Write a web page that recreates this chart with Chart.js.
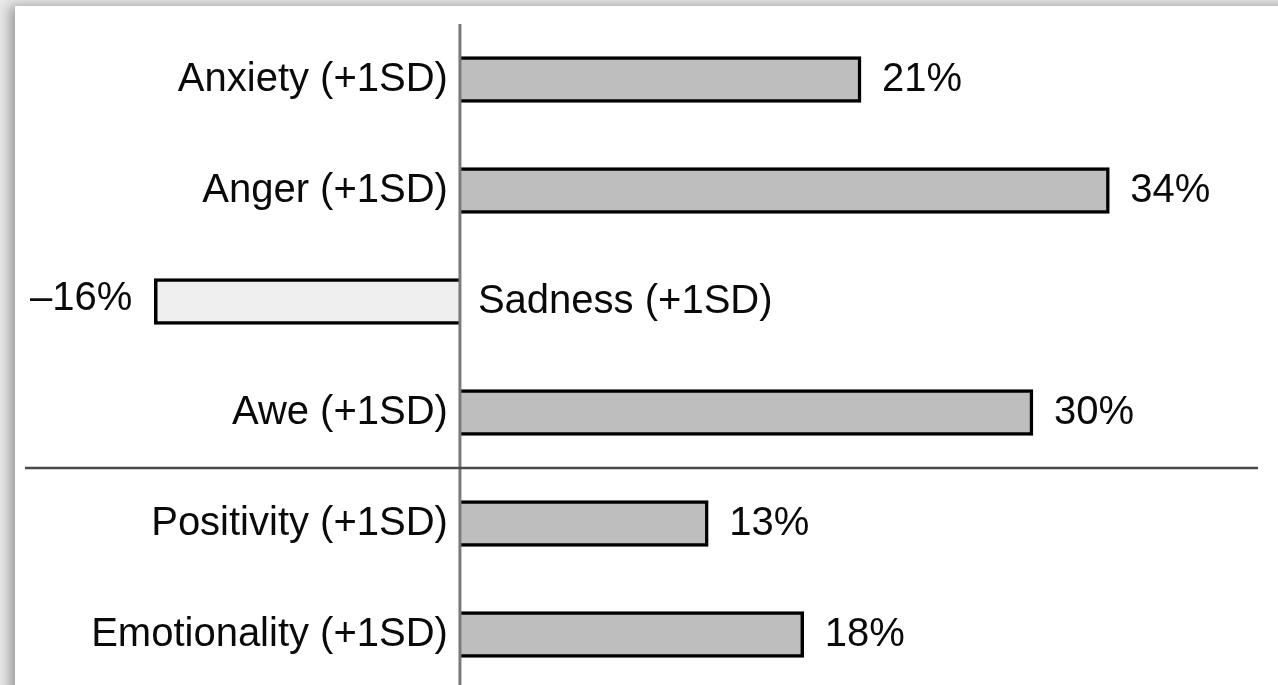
<!DOCTYPE html>
<html>
<head>
<meta charset="utf-8">
<script src="https://cdn.jsdelivr.net/npm/chart.js@4"></script>
<style>
    html, body { margin: 0; padding: 0; width: 1278px; height: 685px; overflow: hidden; background: #e9e9e9; }
    #panel { position: absolute; left: 15px; top: 6px; width: 1300px; height: 720px; background: #fff; box-shadow: -5px 0 12px rgba(0,0,0,0.35); }
    #chart { position: absolute; left: 0; top: 0; }
</style>
</head>
<body>
<div id="panel"></div>
<canvas id="chart" width="1278" height="690"></canvas>
<script>
var categories = ['Anxiety (+1SD)', 'Anger (+1SD)', 'Sadness (+1SD)', 'Awe (+1SD)', 'Positivity (+1SD)', 'Emotionality (+1SD)'];
var values = [21, 34, -16, 30, 13, 18];
var valueLabels = ['21%', '34%', '\u201316%', '30%', '13%', '18%'];
var separatorAfter = 3; // line between Awe and Positivity

var labelFont = '40px "Liberation Sans", Arial, sans-serif';

var labelsPlugin = {
    id: 'labels',
    afterDatasetsDraw: function (chart) {
        var ctx = chart.ctx;
        var x = chart.scales.x;
        var meta = chart.getDatasetMeta(0);
        var x0 = x.getPixelForValue(0);

        ctx.save();
        // zero axis
        ctx.strokeStyle = '#7a7a7a';
        ctx.lineWidth = 3;
        ctx.beginPath();
        ctx.moveTo(x0, 24);
        ctx.lineTo(x0, chart.height);
        ctx.stroke();

        // separator between groups
        var ySep = (meta.data[separatorAfter].y + meta.data[separatorAfter + 1].y) / 2;
        ctx.strokeStyle = '#4a4a4a';
        ctx.lineWidth = 2.5;
        ctx.beginPath();
        ctx.moveTo(25, ySep);
        ctx.lineTo(1258, ySep);
        ctx.stroke();

        ctx.font = labelFont;
        ctx.fillStyle = '#0a0a0a';
        ctx.textBaseline = 'middle';
        meta.data.forEach(function (bar, i) {
            var xEnd = x.getPixelForValue(values[i]);
            if (values[i] >= 0) {
                ctx.textAlign = 'right';
                ctx.fillText(categories[i], x0 - 12, bar.y);
                ctx.textAlign = 'left';
                ctx.fillText(valueLabels[i], xEnd + 21, bar.y);
            } else {
                ctx.textAlign = 'left';
                ctx.fillText(categories[i], x0 + 18, bar.y);
                ctx.textAlign = 'right';
                ctx.fillText(valueLabels[i], xEnd - 22, bar.y - 3);
            }
        });
        ctx.restore();
    }
};

new Chart(document.getElementById('chart'), {
    type: 'bar',
    data: {
        labels: categories,
        datasets: [{
            data: values,
            backgroundColor: values.map(function (v) { return v < 0 ? '#efefef' : '#bebebe'; }),
            borderColor: '#000',
            borderWidth: 3.5,
            barThickness: 46
        }]
    },
    options: {
        indexAxis: 'y',
        responsive: false,
        devicePixelRatio: 1,
        animation: false,
        layout: { padding: { top: 24, bottom: 0, left: 0, right: 0 } },
        plugins: { legend: { display: false }, tooltip: { enabled: false } },
        scales: {
            x: { type: 'linear', min: -24.08, max: 42.83, display: false },
            y: { display: false, offset: true }
        }
    },
    plugins: [labelsPlugin]
});
</script>
</body>
</html>
